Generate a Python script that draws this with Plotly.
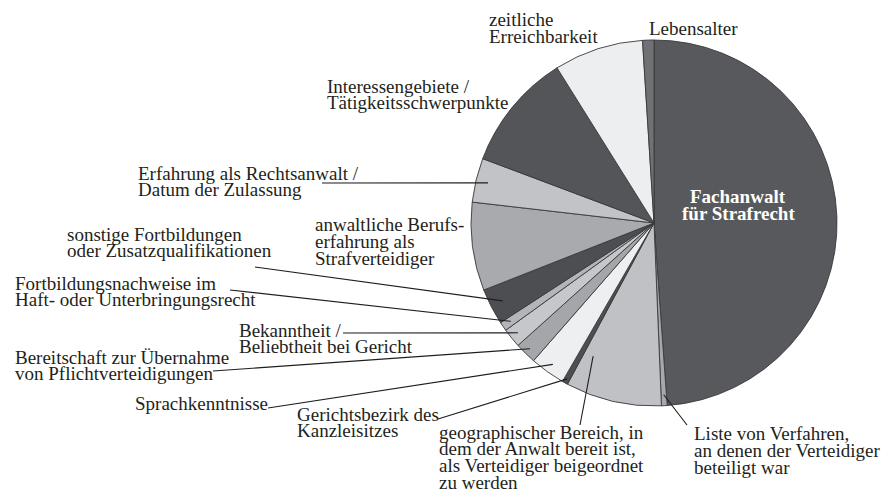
import math
import plotly.graph_objects as go

# Criteria named by respondents (share of mentions, %), clockwise from 12 o'clock
categories = [
    "Fachanwalt<br>für Strafrecht",
    "Liste von Verfahren,<br>an denen der Verteidiger<br>beteiligt war",
    "geographischer Bereich, in<br>dem der Anwalt bereit ist,<br>als Verteidiger beigeordnet<br>zu werden",
    "Gerichtsbezirk des<br>Kanzleisitzes",
    "Sprachkenntnisse",
    "Bereitschaft zur Übernahme<br>von Pflichtverteidigungen",
    "Bekanntheit /<br>Beliebtheit bei Gericht",
    "Fortbildungsnachweise im<br>Haft- oder Unterbringungsrecht",
    "sonstige Fortbildungen<br>oder Zusatzqualifikationen",
    "anwaltliche Berufs-<br>erfahrung als<br>Strafverteidiger",
    "Erfahrung als Rechtsanwalt /<br>Datum der Zulassung",
    "Interessengebiete /<br>Tätigkeitsschwerpunkte",
    "zeitliche<br>Erreichbarkeit",
    "Lebensalter",
]
values = [48.9, 0.5, 8.5, 0.5, 3.1, 1.9, 1.7, 0.8, 3.2, 7.8, 3.9, 10.4, 7.9, 1.0]

slice_colors = [
    "#58595c", "#a6a8ab", "#c0c1c4", "#4e4f52", "#eeeff1", "#a4a6a9", "#c6c7ca",
    "#b4b5b8", "#4d4e51", "#a9aaad", "#c2c3c6", "#545558", "#eceef0", "#707174",
]

W, H = 888, 497
CX, CY, R = 654, 223, 183          # pie centre and radius in pixels
FONT = "Liberation Serif"
FS = 19
LINE_GAP = 16.8
TEXT_COLOR = "#231f20"

# label placement: left x, first baseline (pixels); optional leader line
# (label end point, radial fraction, position inside slice 0..1)
label_layout = {
    1: dict(x=692, y=440, lead=((687, 425), 0.94, 0.5)),
    2: dict(x=437, y=438.5, lead=((580, 425), 0.80, 0.88)),
    3: dict(x=295, y=420.5, lead=((438, 419), 0.975, 0.5)),
    4: dict(x=132.5, y=410, lead=((268, 408), 0.95, 0.5)),
    5: dict(x=12.5, y=363.5, lead=((213, 371), 0.965, 0.5)),
    6: dict(x=236.5, y=336.5, lead=((343, 333), 0.955, 0.5)),
    7: dict(x=13, y=289.5, lead=((230, 290), 0.95, 0.5)),
    8: dict(x=65, y=240.5, lead=((255, 267), 0.93, 0.5)),
    9: dict(x=313, y=231, lead=None),
    10: dict(x=136, y=179.5, lead=((322, 183), 0.933, 0.5)),
    11: dict(x=325, y=92.5, lead=None),
    12: dict(x=486.5, y=26, lead=None),
    13: dict(x=646.5, y=34.5, lead=None),
}


def px(x):
    return x / W


def py(y):
    return 1 - y / H


fig = go.Figure(go.Pie(
    labels=categories,
    values=values,
    sort=False,
    direction="clockwise",
    rotation=0,
    textinfo="none",
    hoverinfo="label+percent",
    marker=dict(colors=slice_colors, line=dict(color="#3a3a3c", width=0.9)),
    domain=dict(x=[px(CX - R), px(CX + R)], y=[py(CY + R), py(CY - R)]),
))

# slice angles (degrees clockwise from top) derived from the values
total = sum(values)
starts, acc = [], 0.0
for v in values:
    starts.append(acc / total * 360)
    acc += v

annotations, shapes = [], []
baseline_shift = 0.3375 * FS


def add_lines(lines, x, y0, anchor, color, bold=False):
    for k, line in enumerate(lines):
        yb = y0 + k * LINE_GAP
        annotations.append(dict(
            x=px(x), y=py(yb - baseline_shift), xref="paper", yref="paper",
            text=f"<b>{line}</b>" if bold else line, showarrow=False,
            xanchor=anchor, yanchor="middle",
            font=dict(family=FONT, size=FS, color=color),
        ))


# label inside the largest slice
add_lines(categories[0].split("<br>"), 738, 203, "center", "white", bold=True)

for i, spec in label_layout.items():
    add_lines(categories[i].split("<br>"), spec["x"], spec["y"], "left", TEXT_COLOR)
    if spec["lead"]:
        (lx, ly), rf, pos = spec["lead"]
        ang = math.radians(starts[i] + pos * values[i] / total * 360)
        ex = CX + rf * R * math.sin(ang)
        ey = CY - rf * R * math.cos(ang)
        shapes.append(dict(
            type="line", xref="paper", yref="paper",
            x0=px(lx), y0=py(ly), x1=px(ex), y1=py(ey),
            line=dict(color="#1e1e1e", width=1.1),
        ))

fig.update_layout(
    width=W, height=H, autosize=False,
    margin=dict(l=0, r=0, t=0, b=0),
    paper_bgcolor="white", plot_bgcolor="white",
    showlegend=False,
    annotations=annotations,
    shapes=shapes,
)

fig.write_html("out.html")
